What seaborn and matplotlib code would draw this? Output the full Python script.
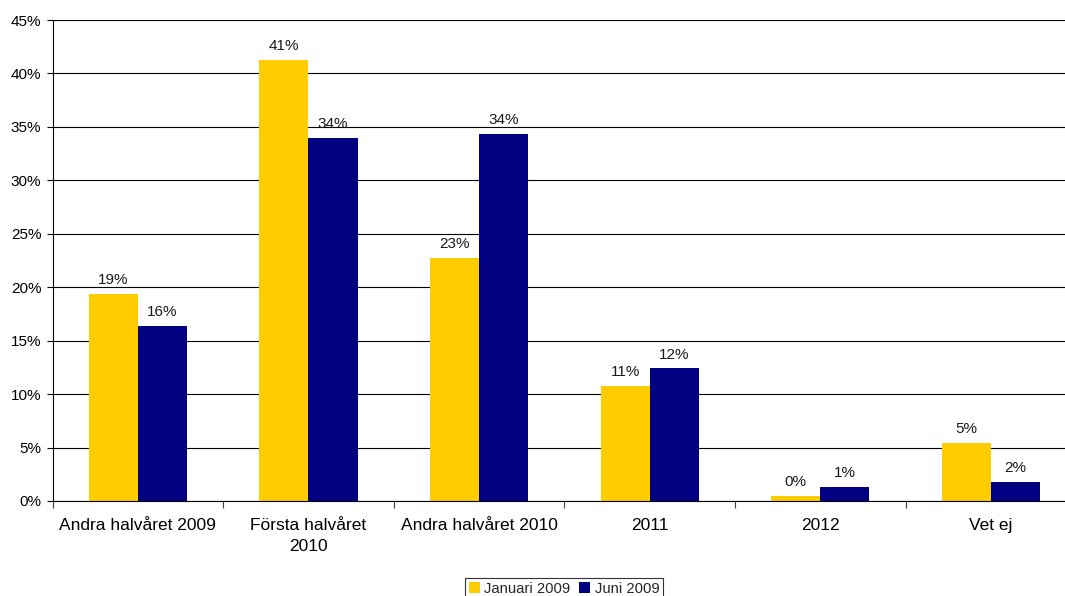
import matplotlib
matplotlib.use("Agg")
import matplotlib.pyplot as plt
import matplotlib.ticker as mticker
import seaborn as sns
import pandas as pd
import numpy as np

categories = ["Andra halvåret 2009", "Första halvåret\n2010", "Andra halvåret 2010", "2011", "2012", "Vet ej"]
series_names = ["Januari 2009", "Juni 2009"]
januari_2009 = [19.4, 41.3, 22.7, 10.8, 0.45, 5.4]
juni_2009 = [16.4, 34.0, 34.3, 12.4, 1.3, 1.8]
colors = ["#FFCC00", "#000080"]

df = pd.DataFrame({
    "Kategori": categories * 2,
    "Serie": [series_names[0]] * len(categories) + [series_names[1]] * len(categories),
    "Värde": januari_2009 + juni_2009,
})

sns.set_style("white")
plt.rcParams["font.family"] = ["Liberation Sans", "DejaVu Sans"]

W, H = 1065, 596
fig = plt.figure(figsize=(W / 100, H / 100), dpi=100)
left_px, right_px, top_px, bottom_px = 52.5, 1065, 20, 501
ax = fig.add_axes([left_px / W, 1 - bottom_px / H, (right_px - left_px) / W, (bottom_px - top_px) / H])

sns.barplot(data=df, x="Kategori", y="Värde", hue="Serie", order=categories,
            hue_order=series_names, palette=colors, width=0.576, saturation=1,
            edgecolor="none", linewidth=0, ax=ax, legend=True)

for c in ax.containers:
    ax.bar_label(c, labels=[f"{round(v.get_height()):.0f}%" for v in c], padding=5, fontsize=11, color="#1a1a1a")

ax.yaxis.set_major_locator(mticker.MultipleLocator(5))
ax.yaxis.set_major_formatter(mticker.FuncFormatter(lambda v, p: f"{v:.0f}%"))
ax.set_axisbelow(True)
ax.yaxis.grid(True, color="black", linewidth=0.8)
ax.set_xlabel("")
ax.set_ylabel("")

for s in ["top", "right"]:
    ax.spines[s].set_visible(False)
for s in ["left", "bottom"]:
    ax.spines[s].set_color("black")
    ax.spines[s].set_linewidth(0.8)

ax.tick_params(axis="y", which="major", left=True, length=4, width=0.8, labelsize=11, pad=4, colors="black")
ax.tick_params(axis="x", which="major", bottom=False, length=0, labelsize=12.5, pad=12, colors="black")
ax.set_xticks(np.arange(-0.5, 6.0, 1.0), minor=True)
ax.tick_params(axis="x", which="minor", bottom=True, length=5, width=0.8, color="#444444")
for t in ax.get_xticklabels():
    t.set_linespacing(1.55)

ax.set_ylim(0, 45)
ax.set_xlim(-0.5, 5.434)

gl = ax.get_ygridlines()
if gl:
    gl[-1].set_color("#888888")

leg = ax.get_legend()
handles, labels = ax.get_legend_handles_labels()
leg.remove()
fig.legend(handles, labels, loc="upper center", bbox_to_anchor=(564 / W, 1 - 578 / H),
           ncol=2, frameon=True, fancybox=False, edgecolor="black", fontsize=10.6,
           handlelength=0.75, handleheight=0.75, handletextpad=0.3, columnspacing=0.6,
           borderpad=0.25, borderaxespad=0)
fig.legends[0].get_frame().set_linewidth(0.8)

fig.savefig("out.png", dpi=100)
